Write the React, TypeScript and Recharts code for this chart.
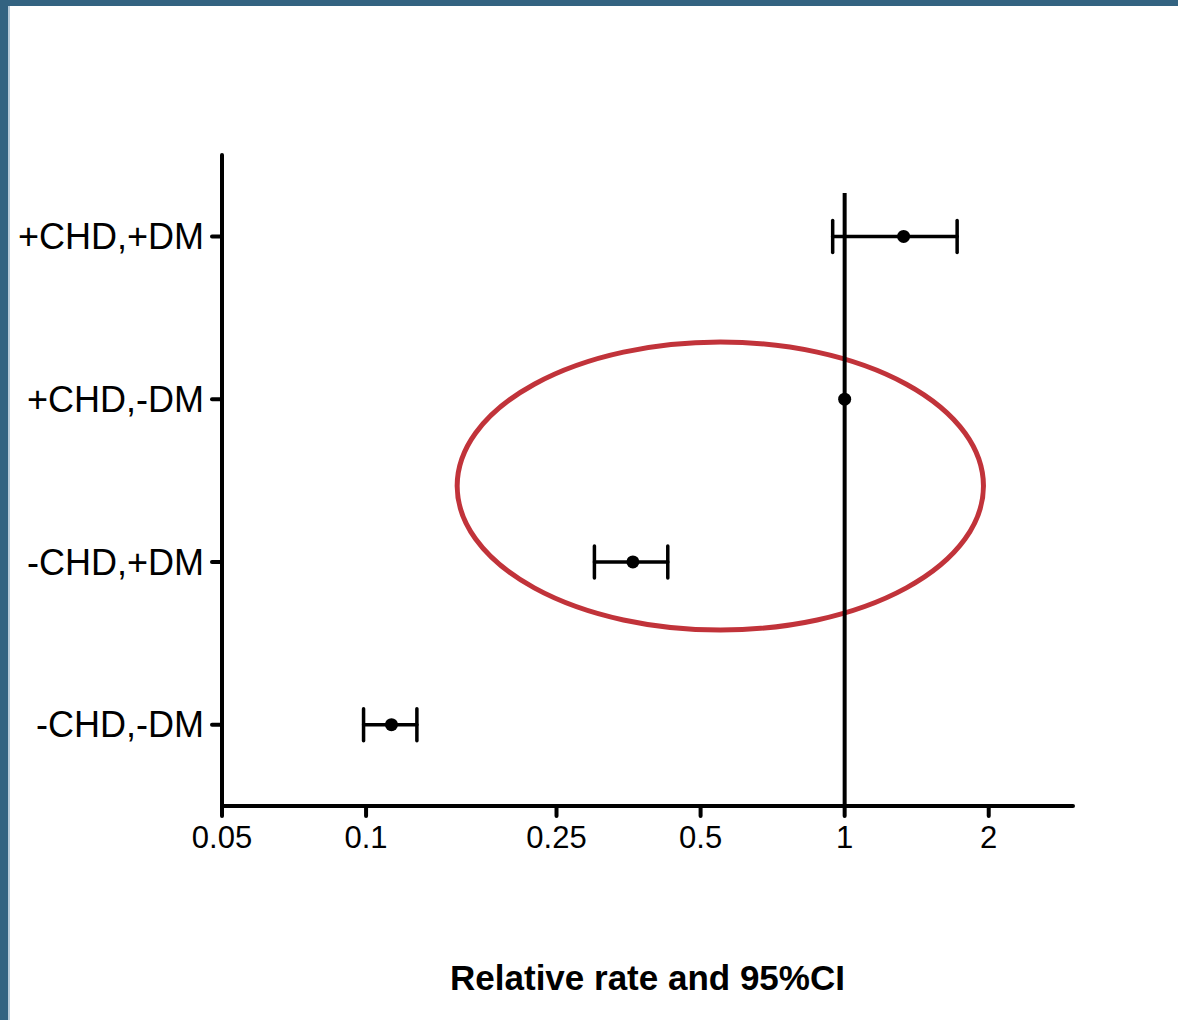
import { ScatterChart, Scatter, XAxis, YAxis, ErrorBar, ReferenceLine, ReferenceArea } from 'recharts';

// rows from bottom (y=1) to top (y=4)
const groups = ['-CHD,-DM', '-CHD,+DM', '+CHD,-DM', '+CHD,+DM'];
const rates = [0.113, 0.361, 1.0, 1.328];
const lower = [0.0988, 0.3, null, 0.944];
const upper = [0.1277, 0.427, null, 1.718];
const xTicks = [0.05, 0.1, 0.25, 0.5, 1, 2];

// red highlight ellipse, in data units
const ringX = [0.155, 1.95];
const ringY = [1.581, 3.351];

const data = groups.map((g, i) => ({
    name: g,
    y: i + 1,
    rate: rates[i],
    ci: lower[i] == null ? null : [rates[i] - (lower[i] as number), (upper[i] as number) - rates[i]],
}));

const Dot = (props: any) => <circle cx={props.cx} cy={props.cy} r={6.5} fill="#000" />;

const Ring = (props: any) => (
    <ellipse
        cx={props.x + props.width / 2}
        cy={props.y + props.height / 2}
        rx={props.width / 2}
        ry={props.height / 2}
        fill="none"
        stroke="#c1333a"
        strokeWidth={5}
    />
);

const font = 'Arial, "Liberation Sans", sans-serif';

const App = () => {
    return (
        <div
            style={{
                position: 'absolute',
                left: 0,
                top: 0,
                width: 1178,
                height: 1020,
                background: '#fff',
                fontFamily: font,
            }}
        >
            <div style={{ position: 'absolute', left: 0, top: 0, width: 8, height: 1020, background: '#336381' }} />
            <div style={{ position: 'absolute', left: 8, top: 0, width: 2, height: 1020, background: '#b9cbd9' }} />
            <div style={{ position: 'absolute', left: 0, top: 0, width: 1178, height: 6, background: '#336381' }} />
            <div style={{ position: 'absolute', left: 0, top: 0 }}>
                <ScatterChart width={1178} height={1020} margin={{ top: 155, right: 105, bottom: 0, left: 0 }}>
                    <XAxis
                        type="number"
                        dataKey="rate"
                        scale="log"
                        domain={[0.05, 3]}
                        ticks={xTicks}
                        allowDataOverflow
                        height={214}
                        tickSize={10}
                        tickMargin={10}
                        axisLine={{ stroke: '#000', strokeWidth: 4, strokeLinecap: 'round' }}
                        tickLine={{ stroke: '#000', strokeWidth: 4, strokeLinecap: 'round' }}
                        tick={{ fill: '#000', fontSize: 31, fontFamily: font }}
                        label={{
                            value: 'Relative rate and 95%CI',
                            position: 'insideBottom',
                            offset: 30,
                            fill: '#000',
                            fontSize: 35,
                            fontWeight: 'bold',
                            fontFamily: font,
                        }}
                    />
                    <YAxis
                        type="number"
                        dataKey="y"
                        domain={[0.5, 4.5]}
                        ticks={[1, 2, 3, 4]}
                        tickFormatter={(v: number) => groups[v - 1]}
                        width={222}
                        tickSize={10}
                        tickMargin={8}
                        axisLine={{ stroke: '#000', strokeWidth: 4, strokeLinecap: 'round' }}
                        tickLine={{ stroke: '#000', strokeWidth: 4, strokeLinecap: 'round' }}
                        tick={{ fill: '#000', fontSize: 36, fontFamily: font }}
                    />
                    <ReferenceArea
                        x1={ringX[0]}
                        x2={ringX[1]}
                        y1={ringY[0]}
                        y2={ringY[1]}
                        shape={Ring}
                        ifOverflow="visible"
                    />
                    <ReferenceLine
                        segment={[{ x: 1, y: 0.5 }, { x: 1, y: 4.266 }]}
                        stroke="#000"
                        strokeWidth={4}
                        ifOverflow="visible"
                    />
                    <Scatter data={data} shape={Dot} isAnimationActive={false}>
                        <ErrorBar
                            dataKey="ci"
                            direction="x"
                            width={16}
                            stroke="#000"
                            strokeWidth={3.5}
                            strokeLinecap="round"
                        />
                    </Scatter>
                </ScatterChart>
            </div>
        </div>
    );
};

export default App;
